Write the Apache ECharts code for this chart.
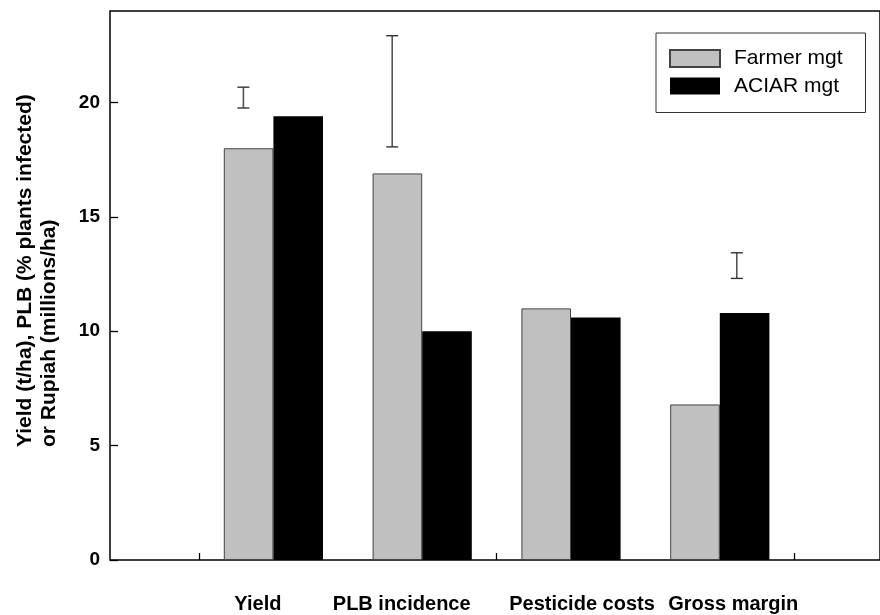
<!DOCTYPE html>
<html>
<head>
<meta charset="utf-8">
<script src="https://cdn.jsdelivr.net/npm/echarts@6/dist/echarts.min.js"></script>
<style>
html,body{margin:0;padding:0;background:#fff;}
#chart{width:880px;height:615px;}
</style>
</head>
<body>
<div id="chart"></div>
<script>
// ---- data ----
var categories = ['Yield', 'PLB incidence', 'Pesticide costs', 'Gross margin'];
var seriesNames = ['Farmer mgt', 'ACIAR mgt'];
var farmerMgt = [18.0, 16.9, 11.0, 6.8];
var aciarMgt = [19.4, 10.0, 10.6, 10.8];
// LSD error bars: [categoryIndex, low, high]
var lsdBars = [[0, 19.76, 20.67], [1, 18.06, 22.92], [3, 12.31, 13.43]];
var yTicks = [0, 5, 10, 15, 20];
var yTitle = 'Yield (t/ha), PLB (% plants infected)\nor Rupiah (millions/ha)';

// ---- layout / style ----
var FONT = '"Liberation Sans", Arial, sans-serif';
var labelShift = [[0, 31, 0, 0], [0, 41, 0, 0], [0, 0, 0, 22], [0, 0, 0, 27]];
var lsdShift = {0: -30, 1: -30, 3: 17};

var chart = echarts.init(document.getElementById('chart'), null, {renderer: 'canvas'});

var option = {
  animation: false,
  backgroundColor: '#fff',
  grid: [
    {left: 110, top: 11, right: -10, bottom: 55, show: true, borderColor: '#000', borderWidth: 1.5, backgroundColor: 'transparent'},
    {left: 199, width: 595.2, top: 11, bottom: 55}
  ],
  xAxis: [
    {gridIndex: 0, type: 'value', min: 0, max: 1, show: false},
    {
      gridIndex: 1, type: 'category',
      data: categories.map(function (c, i) {
        return {value: c, textStyle: {padding: labelShift[i]}};
      }),
      boundaryGap: true,
      axisLine: {show: false},
      axisTick: {show: true, inside: true, length: 7,
        interval: function (index) { return index % 2 === 0; },
        lineStyle: {color: '#000', width: 1.3}},
      axisLabel: {margin: 34, color: '#000', fontFamily: FONT, fontWeight: 'bold', fontSize: 20, interval: 0}
    }
  ],
  yAxis: [
    {
      gridIndex: 0, type: 'value', min: 0, max: 24, interval: 5,
      axisLine: {show: false},
      axisTick: {show: true, inside: true, length: 8, lineStyle: {color: '#000', width: 1.3}},
      splitLine: {show: false},
      axisLabel: {
        margin: 10, color: '#000', fontFamily: FONT, fontWeight: 'bold', fontSize: 19,
        showMaxLabel: false,
        formatter: function (v) { return yTicks.indexOf(v) >= 0 ? String(v) : ''; }
      }
    },
    {gridIndex: 1, type: 'value', min: 0, max: 24, show: false}
  ],
  legend: {
    data: seriesNames,
    orient: 'vertical',
    left: 656, top: 33,
    padding: [15, 23, 16, 13],
    itemWidth: 50, itemHeight: 17, itemGap: 6.5,
    icon: 'rect',
    borderColor: '#333', borderWidth: 1,
    backgroundColor: '#fff',
    textStyle: {color: '#000', fontFamily: FONT, fontSize: 21, lineHeight: 17, padding: [0, 0, 0, 9]},
    selectedMode: false
  },
  graphic: [{
    type: 'text',
    x: 13, y: 447,
    rotation: Math.PI / 2,
    style: {
      text: yTitle,
      fill: '#000',
      font: 'bold 21px ' + FONT,
      lineHeight: 24,
      align: 'left',
      verticalAlign: 'top'
    }
  }],
  series: [
    {
      name: seriesNames[0], type: 'bar', xAxisIndex: 1, yAxisIndex: 1,
      data: farmerMgt, barWidth: 49.6, barGap: '0%',
      itemStyle: {color: '#c0c0c0', borderColor: '#444', borderWidth: 1}
    },
    {
      name: seriesNames[1], type: 'bar', xAxisIndex: 1, yAxisIndex: 1,
      data: aciarMgt, barWidth: 49.6, barGap: '0%',
      itemStyle: {color: '#000', borderColor: '#000', borderWidth: 0}
    },
    {
      name: 'LSD', type: 'custom', xAxisIndex: 1, yAxisIndex: 1,
      data: lsdBars,
      renderItem: function (params, api) {
        var idx = api.value(0);
        var lo = api.coord([idx, api.value(1)]);
        var hi = api.coord([idx, api.value(2)]);
        var x = lo[0] + (lsdShift[idx] || 0);
        var cap = 6;
        var st = {stroke: '#333', lineWidth: 1.4};
        return {
          type: 'group',
          children: [
            {type: 'line', shape: {x1: x, y1: hi[1], x2: x, y2: lo[1]}, style: {stroke: '#555', lineWidth: 1.6}},
            {type: 'line', shape: {x1: x - cap, y1: hi[1], x2: x + cap, y2: hi[1]}, style: st},
            {type: 'line', shape: {x1: x - cap, y1: lo[1], x2: x + cap, y2: lo[1]}, style: st}
          ]
        };
      },
      z: 5
    }
  ]
};
chart.setOption(option);
</script>
</body>
</html>
